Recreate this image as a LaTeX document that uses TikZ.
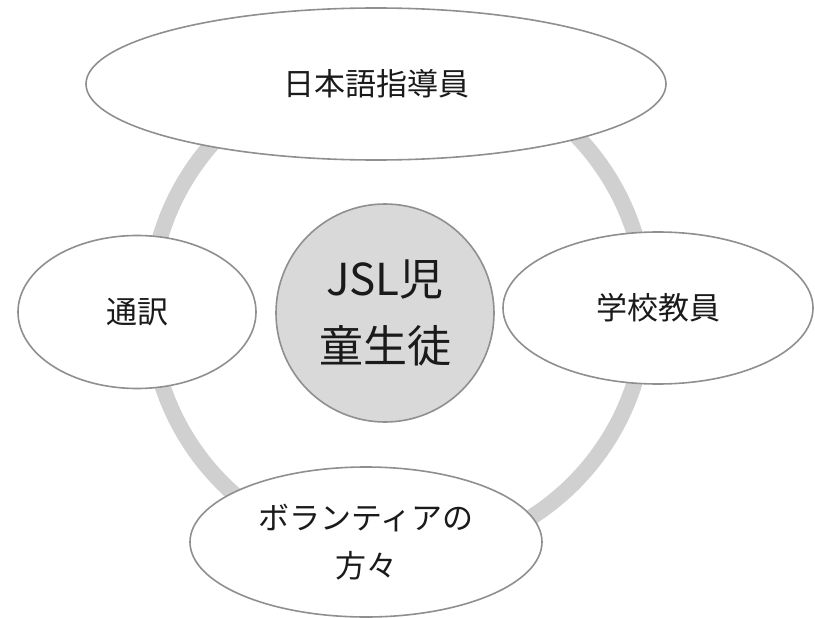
\documentclass[tikz,border=0pt]{standalone}
\usepackage{fontspec}
\setmainfont{Noto Sans CJK JP}
\usetikzlibrary{shapes.geometric}
\definecolor{ringgray}{HTML}{D0D0D0}
\definecolor{edgegray}{HTML}{8F8F8F}
\definecolor{hubfill}{HTML}{D9D9D9}
\definecolor{inkcol}{HTML}{1A1A1A}
\begin{document}
\begin{tikzpicture}[x=1pt,y=-1pt,
  sat/.style={ellipse, draw=edgegray, line width=1.6pt, fill=white, inner sep=0pt,
    text=inkcol, font=\fontsize{31}{48}\selectfont, align=center},
  hub/.style={circle, draw=edgegray, line width=1.6pt, fill=hubfill, inner sep=0pt,
    minimum size=218pt, text=inkcol, font=\fontsize{44}{67}\selectfont, align=center},
  ringstyle/.style={circle, draw=ringgray, line width=16pt, inner sep=0pt, minimum size=496pt}]
\useasboundingbox (0,0) rectangle (815,618);
\node[ringstyle] (ring) at (398,308) {};
\node[hub] (hub) at (385,313) {JSL児\\童生徒};
\node[sat, minimum width=580pt, minimum height=152pt] (top) at (376,84) {日本語指導員};
\node[sat, minimum width=238pt, minimum height=153pt] (left) at (137,312) {通訳};
\node[sat, minimum width=310pt, minimum height=152pt] (right) at (658,308) {学校教員};
\node[sat, minimum width=352pt, minimum height=150pt] (bottom) at (366,542) {ボランティアの\\方々};
\end{tikzpicture}
\end{document}
